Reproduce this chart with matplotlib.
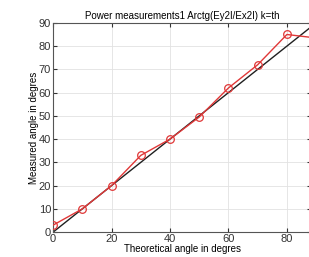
import matplotlib
matplotlib.use('Agg')
import matplotlib.pyplot as plt

# 数据
theo = [0, 10, 20, 30, 40, 50, 60, 70, 80, 90]
meas = [3, 10, 20, 33, 40, 49.5, 62, 72, 85, 83.5]
ideal_x = [0, 90]
ideal_y = [0, 90]

plt.rcParams['font.family'] = ['Liberation Sans', 'DejaVu Sans']

fig = plt.figure(figsize=(3.09, 2.57), dpi=100)
ax = fig.add_axes([0.172, 0.097, 0.835, 0.814])

ax.plot(theo, meas, color='#e03838', lw=1.0, marker='o', ms=5.5,
        mfc='none', mec='#e03838', mew=0.9, zorder=3)
ax.plot(ideal_x, ideal_y, color='#202020', lw=1.0, zorder=2)

ax.set_xlim(0, 88.3)
ax.set_ylim(0, 90)
ax.set_xticks([0, 20, 40, 60, 80])
ax.set_yticks(range(0, 91, 10))
ax.grid(True, color='#e2e2e2', lw=0.6)
ax.tick_params(direction='in', labelsize=8, length=3, pad=1.5,
               top=True, right=True, colors='#333333')
for s in ax.spines.values():
    s.set_color('#555555')
    s.set_linewidth(0.8)

ax.set_title('Power measurements1 Arctg(Ey2I/Ex2I) k=th', fontsize=7, pad=3)
ax.set_xlabel('Theoretical angle in degres', fontsize=7, labelpad=0)
ax.set_ylabel('Measured angle in degres', fontsize=7, labelpad=0)

fig.savefig('out.png', dpi=100)
